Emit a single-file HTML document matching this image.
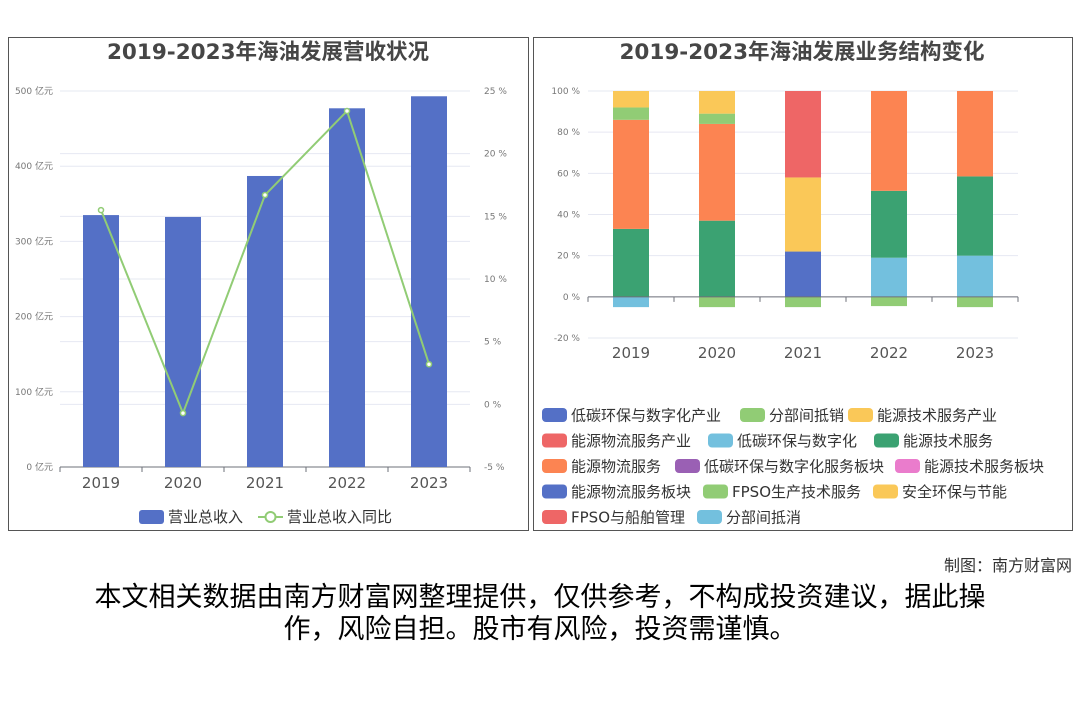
<!DOCTYPE html>
<html><head><meta charset="utf-8"><style>
body{margin:0;width:1080px;height:720px;background:#fff;font-family:"DejaVu Sans","Noto Sans CJK SC",sans-serif;overflow:hidden;position:relative}
.panel{position:absolute;border:1px solid #555;box-sizing:border-box;background:#fff}
svg text{font-family:"DejaVu Sans","Noto Sans CJK SC",sans-serif}
.foot{position:absolute;left:0;width:1080px;text-align:center;font-size:27px;color:#000;line-height:32px;font-family:"Liberation Sans","Noto Sans CJK SC",sans-serif}
</style></head><body>
<div class="panel" style="left:8px;top:37px;width:521px;height:494px"></div>
<div class="panel" style="left:533px;top:37px;width:540px;height:494px"></div>
<svg id="svg" width="1080" height="720" style="position:absolute;left:0;top:0">
<text x="268" y="59" text-anchor="middle" font-size="21.5" font-weight="bold" fill="#464646">2019-2023年海油发展营收状况</text>
<text x="802" y="59" text-anchor="middle" font-size="21.5" font-weight="bold" fill="#464646">2019-2023年海油发展业务结构变化</text>
<g id="L"></g><g id="R"></g>
</svg>
<div style="position:absolute;right:8px;top:552px;font-size:16px;color:#333">制图：南方财富网</div>
<div class="foot" style="top:581px">本文相关数据由南方财富网整理提供，仅供参考，不构成投资建议，据此操<br>作，风险自担。股市有风险，投资需谨慎。</div>
<script>
const years=["2019","2020","2021","2022","2023"];
const revenue=[335,332.5,387,477,493];
const growth=[15.5,-0.7,16.7,23.4,3.2];
const revTicks=[0,100,200,300,400,500];
const pctTicks=[-5,0,5,10,15,20,25];
const seriesNames=["低碳环保与数字化产业","分部间抵销","能源技术服务产业","能源物流服务产业","低碳环保与数字化","能源技术服务","能源物流服务","低碳环保与数字化服务板块","能源技术服务板块","能源物流服务板块","FPSO生产技术服务","安全环保与节能","FPSO与船舶管理","分部间抵消"];
const s_lcdi=[0,0,22,0,0];
const s_fbdx=[0,-5,-5,-4.5,-5];
const s_nyjs=[0,0,36,0,0];
const s_nywl=[0,0,42,0,0];
const s_lcd=[0,0,0,19,20];
const s_jsfw=[33,37,0,32.5,38.5];
const s_wlfw=[53,47,0,48.5,41.5];
const s_bk1=[0,0,0,0,0];
const s_bk2=[0,0,0,0,0];
const s_bk3=[0,0,0,0,0];
const s_fpso=[6,5,0,0,0];
const s_aq=[8,11,0,0,0];
const s_fpsoc=[0,0,0,0,0];
const s_fbdx2=[-5,0,0,0,0];
const structSeries=[s_lcdi,s_fbdx,s_nyjs,s_nywl,s_lcd,s_jsfw,s_wlfw,s_bk1,s_bk2,s_bk3,s_fpso,s_aq,s_fpsoc,s_fbdx2];
const structTicks=[-20,0,20,40,60,80,100];
const colors=["#5470c6","#91cc75","#fac858","#ee6666","#73c0de","#3ba272","#fc8452","#9a60b4","#ea7ccc","#5470c6","#91cc75","#fac858","#ee6666","#73c0de"];
const NS="http://www.w3.org/2000/svg";
function mk(p,t,a,txt){const e=document.createElementNS(NS,t);for(const k in a)e.setAttribute(k,a[k]);if(txt!==undefined)e.textContent=txt;p.appendChild(e);return e;}
const L=document.getElementById("L");
const lx0=60,lx1=470,ly0=467,ly1=91;
const yL=v=>ly0-(v/500)*(ly0-ly1);
const yP=v=>ly0-((v+5)/30)*(ly0-ly1);
const bandL=(lx1-lx0)/years.length;
const xL=i=>lx0+bandL*(i+0.5);
pctTicks.forEach(t=>{const g=mk(L,"line",{x1:lx0,x2:lx1,y1:yP(t),y2:yP(t),stroke:"#e6e8f2"});
const tx=mk(L,"text",{x:484,y:yP(t)+3,"font-size":9,fill:"#777"},t+" %");});
revTicks.forEach(t=>{const g=mk(L,"line",{x1:lx0,x2:lx1,y1:yL(t),y2:yL(t),stroke:"#e6e8f2"});
const tx=mk(L,"text",{x:53,y:yL(t)+3,"font-size":9,fill:"#777","text-anchor":"end"},t+" 亿元");});
mk(L,"line",{x1:lx0,x2:lx1,y1:ly0,y2:ly0,stroke:"#6e7079"});
years.forEach((y,i)=>{
const b=mk(L,"rect",{x:xL(i)-18,y:yL(revenue[i]),width:36,height:ly0-yL(revenue[i]),fill:"#5470c6"});

mk(L,"line",{x1:lx0+bandL*i,x2:lx0+bandL*i,y1:ly0,y2:ly0+5,stroke:"#6e7079"});
const t=mk(L,"text",{x:xL(i),y:488,"font-size":15,fill:"#555","text-anchor":"middle"},y);
});
mk(L,"line",{x1:lx1,x2:lx1,y1:ly0,y2:ly0+5,stroke:"#6e7079"});
const pl=mk(L,"polyline",{points:growth.map((g,i)=>xL(i)+","+yP(g)).join(" "),fill:"none",stroke:"#91cc75","stroke-width":2});

growth.forEach((g,i)=>{const c=mk(L,"circle",{cx:xL(i),cy:yP(g),r:2.5,fill:"#fff",stroke:"#91cc75","stroke-width":1.5});});
const lg1=mk(L,"rect",{x:139,y:510,width:25,height:14,rx:3,fill:"#5470c6"});
mk(L,"text",{x:168,y:522,"font-size":15,fill:"#333"},"营业总收入");
mk(L,"line",{x1:258,x2:283,y1:517,y2:517,stroke:"#91cc75","stroke-width":2});
const lg2=mk(L,"circle",{cx:270.5,cy:517,r:5,fill:"#fff",stroke:"#91cc75","stroke-width":2});
mk(L,"text",{x:287,y:522,"font-size":15,fill:"#333"},"营业总收入同比");
const R=document.getElementById("R");
const rx0=588,rx1=1018,ry0=338,ry1=91;
const yS=v=>ry0-((v+20)/120)*(ry0-ry1);
const bandR=(rx1-rx0)/years.length;
const xR=i=>rx0+bandR*(i+0.5);
structTicks.forEach(t=>{mk(R,"line",{x1:rx0,x2:rx1,y1:yS(t),y2:yS(t),stroke:"#e6e8f2"});
const tx=mk(R,"text",{x:580,y:yS(t)+3,"font-size":9,fill:"#777","text-anchor":"end"},t+" %");});
years.forEach((y,i)=>{let pos=0,neg=0;
structSeries.forEach((s,k)=>{const v=s[i];if(!v)return;let a,b;if(v>0){a=pos;b=pos+v;pos=b;}else{a=neg;b=neg+v;neg=b;}
const r=mk(R,"rect",{x:xR(i)-18,y:yS(Math.max(a,b)),width:36,height:Math.abs(yS(a)-yS(b)),fill:colors[k]});
});
const t=mk(R,"text",{x:xR(i),y:358,"font-size":15,fill:"#555","text-anchor":"middle"},y);
mk(R,"line",{x1:rx0+bandR*i,x2:rx0+bandR*i,y1:yS(0),y2:yS(0)+5,stroke:"#6e7079"});});
mk(R,"line",{x1:rx1,x2:rx1,y1:yS(0),y2:yS(0)+5,stroke:"#6e7079"});
mk(R,"line",{x1:rx0,x2:rx1,y1:yS(0),y2:yS(0),stroke:"#6e7079"});
const legX=[[542,740,848],[542,708,874],[542,675,895],[542,703,873],[542,697]];
let k=0;legX.forEach((row,ri)=>row.forEach(x=>{const y=415+ri*25.5;
const r=mk(R,"rect",{x:x,y:y-7,width:25,height:14,rx:4,fill:colors[k]});
mk(R,"text",{x:x+29,y:y+5.5,"font-size":15,fill:"#333"},seriesNames[k]);k++;}));
</script>
</body></html>
